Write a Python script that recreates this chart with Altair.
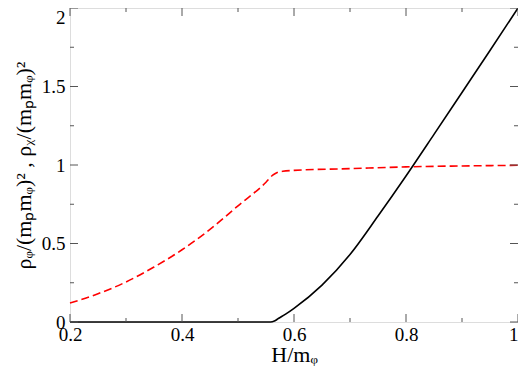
import altair as alt
import pandas as pd

# --- data ---
chi_x = [0.2, 0.3, 0.4, 0.5, 0.55, 0.558, 0.565, 0.572, 0.585, 0.6, 0.65, 0.7, 0.75, 0.8, 0.85, 0.9, 0.95, 1.0]
chi_y = [0.0, 0.0, 0.0, 0.0, 0.0, 0.0, 0.006, 0.022, 0.05, 0.087, 0.235, 0.43, 0.675, 0.93, 1.195, 1.462, 1.729, 2.0]

phi_x = [0.2, 0.25, 0.3, 0.35, 0.4, 0.45, 0.5, 0.55, 0.562, 0.57, 0.58, 0.6, 0.7, 0.8, 0.9, 1.0]
phi_y = [0.121, 0.18, 0.255, 0.35, 0.46, 0.59, 0.74, 0.89, 0.935, 0.952, 0.96, 0.966, 0.977, 0.988, 0.994, 0.998]

x_major = [0.2, 0.4, 0.6, 0.8, 1.0]
x_minor = [0.3, 0.5, 0.7, 0.9]
y_major = [0.0, 0.5, 1.0, 1.5, 2.0]
y_minor = [0.25, 0.75, 1.25, 1.75]

W, H = 448, 314
FONT = "Liberation Serif"
FRAME = "#555555"

xscale = alt.Scale(domain=[0.2, 1.0], nice=False, zero=False)
yscale = alt.Scale(domain=[0.0, 2.0], nice=False, zero=False)

chi_df = pd.DataFrame({"x": chi_x, "y": chi_y})
phi_df = pd.DataFrame({"x": phi_x, "y": phi_y})

xaxis = alt.Axis(
    values=x_major, format="~g", ticks=False, domain=False, grid=False,
    labelFont=FONT, labelFontSize=19, labelColor="black", labelPadding=3,
    labelAlign={"condition": {"test": "datum.value == 1", "value": "right"}, "value": "center"},
    title="H/mᵩ", titleFont=FONT, titleFontSize=22, titleFontWeight="normal",
    titleColor="black", titlePadding=0,
)
yaxis = alt.Axis(
    values=y_major, format="~g", ticks=False, domain=False, grid=False,
    labelFont=FONT, labelFontSize=19, labelColor="black", labelPadding=5,
    labelBaseline={"condition": {"test": "datum.value == 2", "value": "top"}, "value": "middle"},
    title="ρᵩ/(mₚmᵩ)² , ρᵪ/(mₚmᵩ)²", titleFont=FONT, titleFontSize=22,
    titleFontWeight="normal", titleColor="black", titlePadding=6,
)

X = alt.X("x:Q", scale=xscale, axis=xaxis)
Y = alt.Y("y:Q", scale=yscale, axis=yaxis)

phi_line = alt.Chart(phi_df).mark_line(
    color="#ff0000", strokeWidth=1.6, strokeDash=[8, 4], interpolate="monotone"
).encode(x=X, y=Y)

chi_line = alt.Chart(chi_df).mark_line(
    color="black", strokeWidth=1.6, interpolate="monotone"
).encode(x=X, y=Y)

def xticks(df, length, top):
    return alt.Chart(df).mark_rule(color=FRAME, strokeWidth=1).encode(
        x=alt.X("v:Q", scale=xscale, axis=xaxis),
        y=alt.value(0 if top else H),
        y2=alt.value(length if top else H - length),
    )

def yticks(df, length, right):
    return alt.Chart(df).mark_rule(color=FRAME, strokeWidth=1).encode(
        y=alt.Y("v:Q", scale=yscale, axis=yaxis),
        x=alt.value(W if right else 0),
        x2=alt.value(W - length if right else length),
    )

xmaj = pd.DataFrame({"v": x_major})
xmin = pd.DataFrame({"v": x_minor})
ymaj = pd.DataFrame({"v": y_major})
ymin = pd.DataFrame({"v": y_minor})

ticks = [
    xticks(xmaj, 8, False), xticks(xmin, 4, False),
    xticks(xmaj, 8, True), xticks(xmin, 4, True),
    yticks(ymaj, 8, False), yticks(ymin, 4, False),
    yticks(ymaj, 8, True), yticks(ymin, 4, True),
]

chart = alt.layer(phi_line, chi_line, *ticks).properties(
    width=W, height=H,
    autosize=alt.AutoSizeParams(type="none"),
    padding={"left": 62, "top": 0, "right": 0, "bottom": 45},
).configure_view(stroke=FRAME, strokeWidth=1.5).configure(background="white")

chart.save("out.html", embed_options={"renderer": "svg", "actions": False})
